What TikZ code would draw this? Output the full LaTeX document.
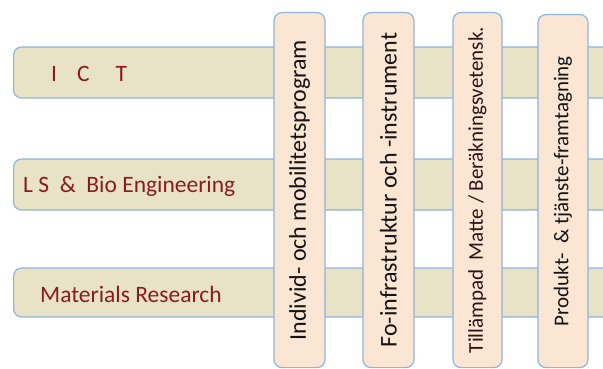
\documentclass[tikz,border=0pt]{standalone}
\usepackage{fontspec}
\setmainfont{Carlito}
\definecolor{barfill}{HTML}{E8E3C7}
\definecolor{colfill}{HTML}{FAE6D3}
\definecolor{edge}{HTML}{8FB4DE}
\definecolor{labred}{HTML}{8C1A22}
\definecolor{coltext}{HTML}{141414}
\definecolor{colred}{HTML}{2E1216}
\tikzset{
  bar/.style={draw=edge, line width=1.2pt, fill=barfill, rounded corners=8pt, inner sep=0pt},
  colbox/.style={draw=edge, line width=1.2pt, fill=colfill, rounded corners=8pt, inner sep=0pt},
  barlabel/.style={anchor=west, text=labred, font=\fontsize{23.5}{28}\selectfont, inner sep=0pt},
  collabel/.style={rotate=90, text=coltext, font=\fontsize{24}{28}\selectfont, inner sep=0pt}
}
\begin{document}
\begin{tikzpicture}[x=1pt,y=-1pt]
\useasboundingbox (0,0) rectangle (603,369);
\clip (0,0) rectangle (603,369);
% horizontal bars
\node[bar, minimum width=700pt, minimum height=51pt, anchor=west] (ict) at (13,72.5) {};
\node[bar, minimum width=700pt, minimum height=51pt, anchor=west] (ls) at (13,184.5) {};
\node[bar, minimum width=700pt, minimum height=49pt, anchor=west] (mat) at (13,292.5) {};
\node[barlabel] (ictt) at (51,74) {I\hspace{20pt}C\hspace{26pt}T};
\node[barlabel] (lst) at (23,186) {L S \ \& \ Bio Engineering};
\node[barlabel] (matt) at (40,294) {Materials Research};
% vertical columns
\node[colbox, minimum width=51pt, minimum height=355pt, anchor=north] (c1) at (299.5,12) {};
\node[colbox, minimum width=51pt, minimum height=355pt, anchor=north] (c2) at (388.5,12) {};
\node[colbox, minimum width=49pt, minimum height=355pt, anchor=north] (c3) at (477.5,12) {};
\node[colbox, minimum width=50pt, minimum height=353pt, anchor=north] (c4) at (563,14) {};
\node[collabel] (c1t) at (c1.center) {Individ- och mobilitetsprogram};
\node[collabel] (c2t) at (c2.center) {Fo-infrastruktur och -instrument};
\node[collabel, text=colred, font=\fontsize{21}{25}\selectfont] (c3t) at (c3.center) {Tillämpad \ Matte / Beräkningsvetensk.};
\node[collabel, font=\fontsize{21}{25}\selectfont] (c4t) at (c4.center) {Produkt- \ \& tjänste-framtagning};
\end{tikzpicture}
\end{document}
